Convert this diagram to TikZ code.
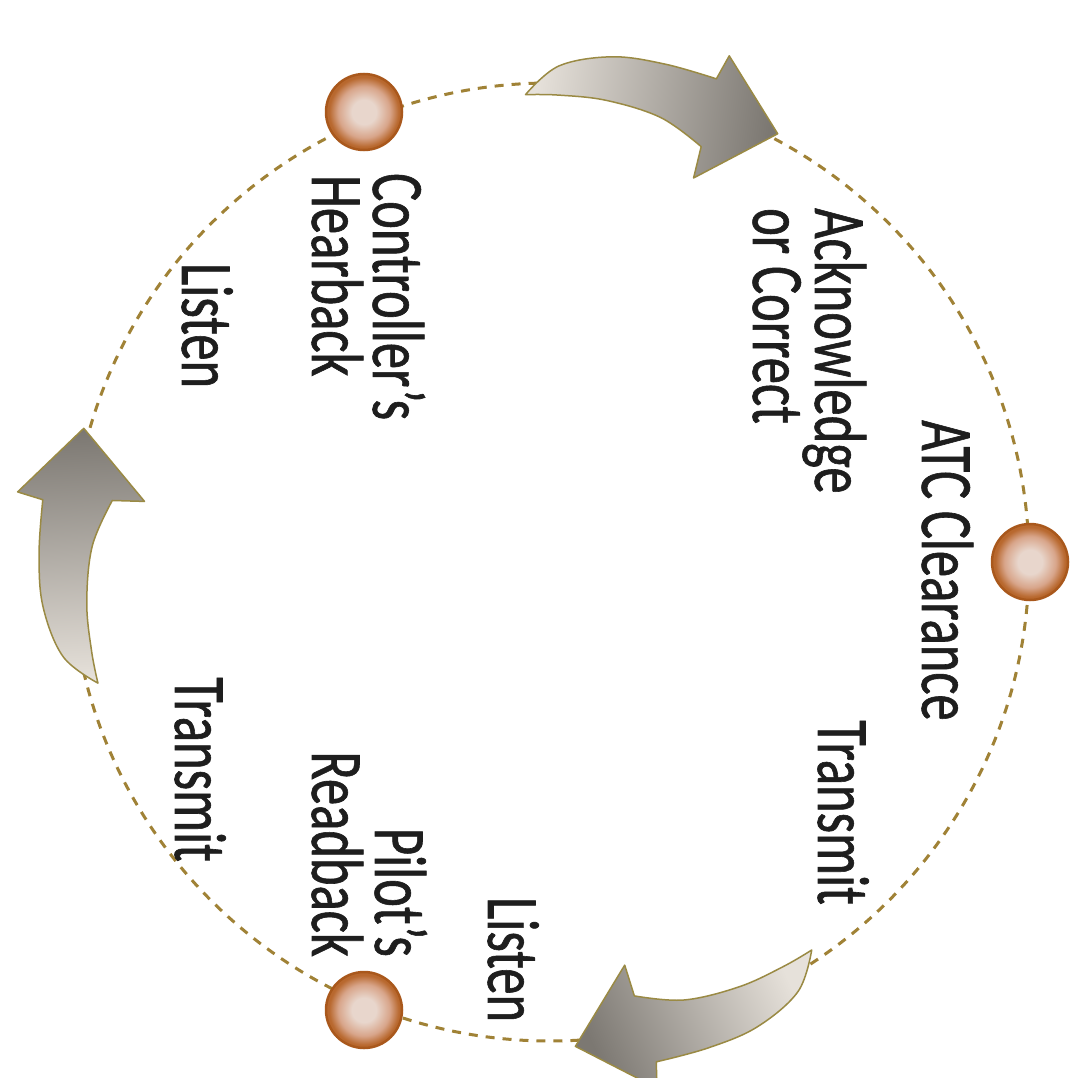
\documentclass[tikz,border=0pt]{standalone}
\usepackage{fontspec}
\setmainfont{Carlito}[FakeStretch=0.71, FakeBold=0.8]
\usetikzlibrary{calc}
\definecolor{dashcol}{HTML}{A08236}
\definecolor{ballout}{HTML}{B8682E}
\definecolor{ballmid}{HTML}{D8A58A}
\definecolor{ballin}{HTML}{E8D6CC}
\definecolor{ballrim}{HTML}{A9581C}
\definecolor{arrdark}{HTML}{7C7872}
\definecolor{arrlight}{HTML}{E6E1DA}
\definecolor{arredge}{HTML}{9A8A44}
\definecolor{txt}{HTML}{1E1E1E}
\pgfdeclareradialshading{ballshade}{\pgfpoint{0bp}{0bp}}{color(0bp)=(ballin); color(8bp)=(ballin); color(17bp)=(ballmid); color(23bp)=(ballout); color(25bp)=(ballout); color(50bp)=(ballout)}
\tikzset{
 lbl/.style={rotate=-90, inner sep=0pt, text=txt, font=\fontsize{74}{62}\selectfont},
 ball/.style={circle, minimum size=76pt, inner sep=0pt, draw=ballrim, line width=2.5pt, shading=ballshade},
 ring/.style={draw=dashcol, line width=3pt, dash pattern=on 9pt off 8pt},
 bigarrow/.style={draw=arredge, line width=1.5pt, line join=round, top color=arrdark, bottom color=arrlight}
}
\newcommand\cyclearrow[2]{%
 \path[bigarrow, shading angle=#2, shade]
  plot[smooth, tension=0.6] coordinates {(#1:468pt) ({#1-4}:496pt) ({#1-10}:509pt) ({#1-16}:511pt) ({#1-22}:511pt)}
  -- ({#1-22.5}:537pt) -- ({#1-31}:485pt) -- ({#1-23.5}:410pt)
  -- plot[smooth, tension=0.6] coordinates {({#1-23}:442pt) ({#1-17}:458pt) ({#1-10}:465pt) ({#1-4}:467pt) (#1:468pt)}
  -- cycle;}
\begin{document}
\begin{tikzpicture}[x=1pt, y=1pt]
\useasboundingbox (0,0) rectangle (1073,-1078);
\fill[white] (0,0) rectangle (1073,-1078);
\coordinate (C) at (550,-562);
\draw[ring] (C) circle[radius=479pt];
\begin{scope}[shift={(C)}]
 \cyclearrow{93}{-98}
 \cyclearrow{-56}{114.6}
 \cyclearrow{195}{3}
\end{scope}
\node[ball] (ballR) at (1030,-562) {};
\node[ball] (ballT) at (364,-112) {};
\node[ball] (ballB) at (364,-1010) {};
\node[lbl, anchor=base west] (atc) at (922,-420) {ATC Clearance};
\node[lbl, anchor=base west] (trR) at (818,-720) {Transmit};
\node[lbl, anchor=base west] (ack1) at (815,-208) {Acknowledge};
\node[lbl, anchor=base west] (ack2) at (753,-208) {or Correct};
\node[lbl, anchor=base west] (liR) at (488,-897) {Listen};
\node[lbl, anchor=base east] (pil1) at (375,-957) {Pilot’s};
\node[lbl, anchor=base east] (pil2) at (312,-957) {Readback};
\node[lbl, anchor=base west] (con1) at (373,-173) {Controller’s};
\node[lbl, anchor=base west] (con2) at (312,-175) {Hearback};
\node[lbl, anchor=base west] (liL) at (182,-263) {Listen};
\node[lbl, anchor=base west] (trL) at (175,-677) {Transmit};
\end{tikzpicture}
\end{document}
